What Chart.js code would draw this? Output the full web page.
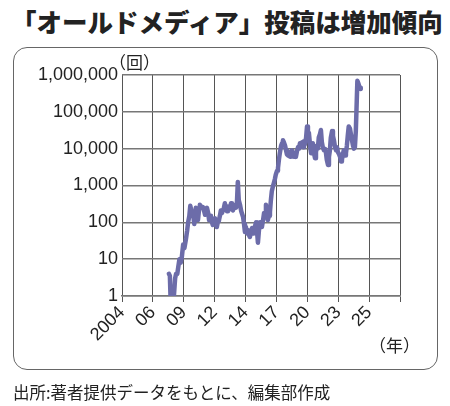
<!DOCTYPE html>
<html>
<head>
<meta charset="utf-8">
<script src="https://cdn.jsdelivr.net/npm/chart.js@4/dist/chart.umd.min.js"></script>
<style>
  html, body { margin: 0; padding: 0; background: #fff; }
  #wrap { position: relative; width: 450px; height: 406px; overflow: hidden; }
  #title { position: absolute; left: 11px; top: 3px; font-family: "Noto Sans CJK JP", sans-serif; font-weight: 900; font-size: 25.5px; line-height: 36px; color: #222; white-space: nowrap; }
  #box { position: absolute; left: 13px; top: 47px; width: 423px; height: 321px; border: 1.5px solid #666; border-radius: 14px; }
  #c { position: absolute; left: 0; top: 0; }
  .unit { position: absolute; font-family: "Noto Sans CJK JP", sans-serif; font-size: 17px; line-height: 20px; color: #222; white-space: nowrap; }
  #source { position: absolute; left: 13px; top: 380px; font-family: "Noto Sans CJK JP", sans-serif; font-size: 16.5px; line-height: 24px; color: #222; white-space: nowrap; }
</style>
</head>
<body>
<div id="wrap">
  <div id="title">「オールドメディア」投稿は増加傾向</div>
  <div id="box"></div>
  <canvas id="c" width="450" height="406"></canvas>
  <div class="unit" style="left:109px; top:52px;">（回）</div>
  <div class="unit" style="left:369px; top:335px;">（年）</div>
  <div id="source">出所:著者提供データをもとに、編集部作成</div>
</div>
<script>
// Tick labels along the x axis (one per gridline; last gridline unlabeled)
const xLabels = ["2004", "06", "09", "12", "14", "17", "20", "23", "25", ""];
// Y axis tick values
const yTicks = [1, 10, 100, 1000, 10000, 100000, 1000000];
// Position of each sample along the x axis, in gridline units
const xPos = [
  1.52,1.55,1.57,1.68,1.72,1.75,1.79,1.82,1.86,1.90,1.94,1.98,2.02,2.07,2.11,2.14,2.18,2.21,2.25,2.30,
  2.34,2.39,2.43,2.46,2.50,2.52,2.57,2.62,2.66,2.69,2.72,2.75,2.79,2.82,2.85,2.88,2.91,2.94,2.98,3.01,
  3.04,3.07,3.11,3.14,3.17,3.20,3.24,3.27,3.30,3.33,3.37,3.40,3.43,3.46,3.50,3.53,3.56,3.59,3.63,3.66,
  3.69,3.72,3.75,3.78,3.82,3.86,3.92,3.95,3.98,4.01,4.05,4.08,4.11,4.14,4.18,4.21,4.24,4.27,4.31,4.34,
  4.37,4.40,4.44,4.47,4.50,4.53,4.57,4.60,4.63,4.66,4.69,4.72,4.76,4.79,4.82,4.85,4.88,4.92,4.95,4.98,
  5.02,5.05,5.08,5.11,5.15,5.18,5.21,5.24,5.28,5.31,5.34,5.38,5.41,5.44,5.47,5.50,5.53,5.57,5.60,5.63,
  5.67,5.70,5.73,5.76,5.80,5.83,5.86,5.89,5.92,5.96,5.99,6.02,6.05,6.09,6.12,6.15,6.18,6.21,6.25,6.28,
  6.31,6.34,6.37,6.41,6.44,6.47,6.50,6.54,6.57,6.60,6.63,6.67,6.70,6.73,6.76,6.80,6.83,6.86,6.89,6.93,
  6.96,6.99,7.03,7.06,7.09,7.12,7.15,7.18,7.22,7.25,7.28,7.31,7.34,7.38,7.41,7.44,7.48,7.51,7.54,7.57,
  7.60,7.62,7.65,7.68,7.71,7.73
];
// Number of posts (回)
const posts = [
  4,3.5,1,1,3,4,4,6,10,8,12,25,20,35,60,100,150,280,200,180,
  90,250,200,115,250,300,260,260,200,160,200,250,180,115,150,140,100,85,120,130,
  100,75,110,115,150,210,180,220,250,330,220,200,270,220,250,330,240,210,260,300,
  250,330,1250,400,300,200,140,90,55,75,50,60,45,40,55,70,50,50,80,100,
  60,28,70,100,80,75,120,180,150,300,200,115,150,190,400,700,900,1200,1500,2000,
  2500,3000,5000,7600,12000,14000,17000,15000,12000,9000,7000,6500,8000,6000,7000,9000,8000,6000,7500,6000,
  9000,11000,10000,14000,12000,15000,11000,16000,13000,20000,40000,25000,27000,12000,7500,10000,14000,8000,5500,8000,
  12000,10000,20000,25000,32000,15000,11000,9000,10000,8000,5000,3600,6000,9000,20000,30000,22000,17000,12000,9000,
  11000,8000,7000,6000,4500,5000,7000,9000,6500,7500,12000,23000,40000,35000,25000,18000,12000,10000,11000,30000,
  200000,700000,600000,500000,450000,420000
];

const points = xPos.map((x, i) => ({ x: x, y: posts[i] }));
const tickFont = { family: "'Liberation Sans', Arial, sans-serif", size: 18 };

new Chart(document.getElementById('c'), {
  type: 'line',
  data: {
    datasets: [{
      data: points,
      borderColor: '#6c6ca9',
      borderWidth: 4.5,
      pointRadius: 0,
      tension: 0,
      borderJoinStyle: 'round',
      borderCapStyle: 'round',
      fill: false
    }]
  },
  options: {
    responsive: false,
    animation: false,
    devicePixelRatio: 1,
    layout: { padding: { top: 75, right: 50, left: 0, bottom: 0 } },
    plugins: { legend: { display: false }, tooltip: { enabled: false } },
    scales: {
      x: {
        type: 'linear',
        min: 0,
        max: xLabels.length - 1,
        afterBuildTicks: (scale) => { scale.ticks = xLabels.map((l, i) => ({ value: i })); },
        afterFit: (scale) => { scale.height = 110; },
        ticks: {
          autoSkip: false,
          maxRotation: 45,
          minRotation: 45,
          padding: 0,
          color: '#222',
          font: tickFont,
          callback: (v) => xLabels[Math.round(v)]
        },
        grid: {
          color: '#555',
          lineWidth: 1,
          borderDash: [2, 2],
          tickBorderDash: [],
          tickColor: '#555',
          tickLength: 6,
          drawTicks: true
        },
        border: { display: true, color: '#777', width: 1.5 }
      },
      y: {
        type: 'logarithmic',
        min: 1,
        max: 1000000,
        afterBuildTicks: (scale) => { scale.ticks = yTicks.map(v => ({ value: v })); },
        afterFit: (scale) => { scale.width = 122; },
        ticks: {
          padding: 4,
          color: '#222',
          font: tickFont,
          callback: (v) => Number(v).toLocaleString('en-US')
        },
        grid: { color: '#777', lineWidth: 1.5, drawTicks: false },
        border: { display: false }
      }
    }
  }
});
</script>
</body>
</html>
